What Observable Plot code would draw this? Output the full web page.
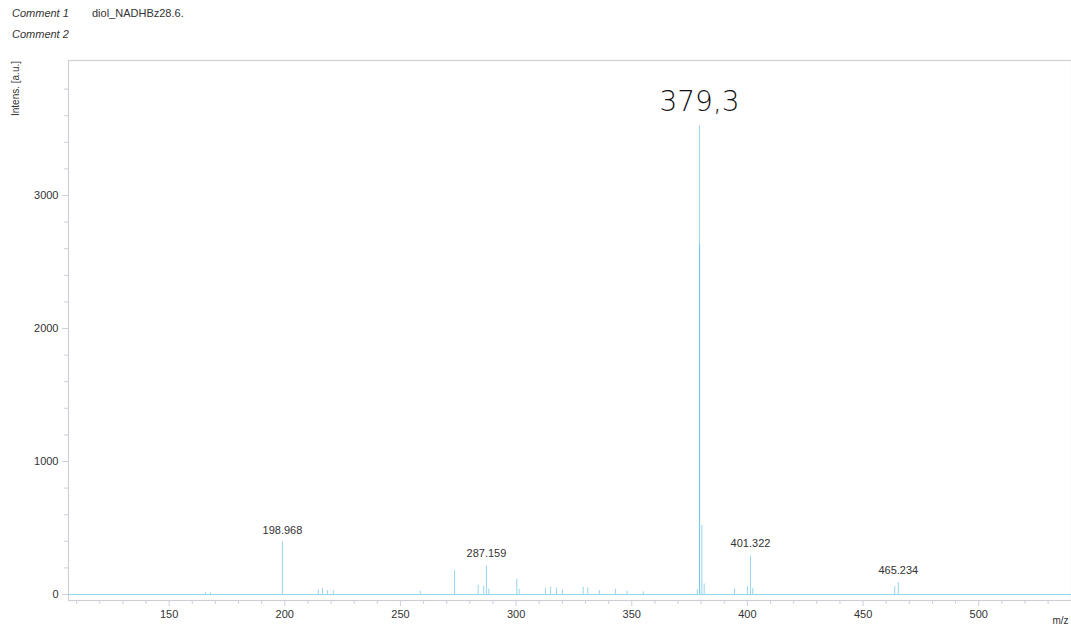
<!DOCTYPE html>
<html>
<head>
<meta charset="utf-8">
<script src="https://cdn.jsdelivr.net/npm/d3@7"></script>
<script src="https://cdn.jsdelivr.net/npm/@observablehq/plot@0.6"></script>
<style>
  html, body { margin: 0; padding: 0; background: #fff; width: 1071px; height: 628px; overflow: hidden; }
  #header { position: relative; height: 52px; font-family: "Liberation Sans", Arial, sans-serif; font-size: 11px; color: #333; }
  #header span { position: absolute; white-space: nowrap; }
  #chart svg { display: block; }
</style>
</head>
<body>
<div id="header">
  <span style="left:12px; top:7px; font-style:italic;">Comment 1</span>
  <span style="left:92px; top:7px;">diol_NADHBz28.6.</span>
  <span style="left:12px; top:28px; font-style:italic;">Comment 2</span>
</div>
<div id="chart"></div>
<script>
// Peak sticks (m/z, intensity in a.u.)
const peakMz = [165.7, 167.9, 198.97, 214.5, 216.3, 218.4, 221.0, 258.6, 273.4, 283.6, 286.0, 287.16, 288.2,
                300.3, 301.3, 312.7, 314.9, 317.5, 320.0, 329.0, 331.0, 336.0, 343.0, 348.0, 355.0, 378.3,
                379.3, 380.3, 381.3, 394.4, 400.0, 401.32, 402.3, 463.7, 465.23];
const peakInt = [15, 12, 395, 35, 45, 30, 28, 25, 180, 70, 60, 215, 40,
                 115, 40, 45, 55, 50, 35, 55, 50, 30, 40, 25, 20, 35,
                 3525, 520, 80, 40, 60, 290, 45, 60, 90];
// Inner darker section of the base peak profile
const coreMz = [379.3];
const coreInt = [2630];

// Annotated peaks
const labelMz = [198.97, 287.16, 379.3, 401.32, 465.23];
const labelInt = [395, 215, 3525, 290, 90];
const labelText = ["198.968", "287.159", "379,3", "401.322", "465.234"];
const labelSize = [11, 11, 28, 11, 11];

// Axis ticks
const xMajor = [150, 200, 250, 300, 350, 400, 450, 500];
const xMinor = [110, 120, 130, 140, 160, 170, 180, 190, 210, 220, 230, 240, 260, 270, 280, 290,
                310, 320, 330, 340, 360, 370, 380, 390, 410, 420, 430, 440, 460, 470, 480, 490, 510, 520, 530];
const yMajor = [0, 1000, 2000, 3000];
const yMinor = [200, 400, 600, 800, 1200, 1400, 1600, 1800, 2200, 2400, 2600, 2800, 3200, 3400, 3600, 3800];

const peaks = peakMz.map((m, i) => ({mz: m, v: peakInt[i]}));
const core = coreMz.map((m, i) => ({mz: m, v: coreInt[i]}));
const labels = labelMz.map((m, i) => ({mz: m, v: labelInt[i], t: labelText[i], s: labelSize[i]}));

const xDomain = [106.5, 540.1];
const yDomain = [-45, 4015];

const lineColor = "#96d6ee";
const axisColor = "#cfcfd6";
const textColor = "#333";

const small = labels.filter(d => d.s < 20);
const big = labels.filter(d => d.s >= 20);

const chart = Plot.plot({
  width: 1071,
  height: 576,
  marginLeft: 68,
  marginRight: 0,
  marginTop: 8,
  marginBottom: 28,
  style: {fontFamily: "'Liberation Sans', Arial, sans-serif", fontSize: "11px", color: textColor, background: "#fff", overflow: "visible"},
  x: {domain: xDomain, axis: null},
  y: {domain: yDomain, axis: null},
  marks: [
    Plot.frame({stroke: axisColor, strokeWidth: 1.2}),
    // baseline of spectrum
    Plot.ruleY([0], {stroke: lineColor, strokeWidth: 1.2}),
    Plot.ruleX(peaks, {x: "mz", y1: 0, y2: "v", stroke: lineColor, strokeWidth: 1}),
    Plot.ruleX(core, {x: "mz", y1: 0, y2: "v", stroke: "#7cc8e6", strokeWidth: 1.2}),
    // axes
    Plot.axisX({ticks: xMajor, tickSize: 6, tickPadding: 4, stroke: axisColor, fill: textColor, fontSize: 11, label: null, tickFormat: d => String(d)}),
    Plot.axisX({ticks: xMinor, tickSize: 4, stroke: axisColor, text: null, label: null}),
    Plot.axisY({ticks: yMajor, tickSize: 6, tickPadding: 4, stroke: axisColor, fill: textColor, fontSize: 11, label: null, tickFormat: d => String(d)}),
    Plot.axisY({ticks: yMinor, tickSize: 4, stroke: axisColor, text: null, label: null}),
    // peak labels
    Plot.text(small, {x: "mz", y: "v", text: "t", dy: -12, fill: textColor, fontSize: 11}),
    Plot.text(big, {x: "mz", y: "v", text: "t", dy: -24, fill: "#111", fontSize: 28, fontFamily: "'DejaVu Sans', sans-serif", fontWeight: 300}),
    // axis titles
    Plot.text(["Intens. [a.u.]"], {frameAnchor: "top-left", dx: -53, dy: 28, rotate: -90, textAnchor: "middle", lineAnchor: "middle", fill: textColor, fontSize: 10}),
    Plot.text(["m/z"], {frameAnchor: "bottom-right", dx: -3, dy: 20, textAnchor: "end", lineAnchor: "middle", fill: textColor, fontSize: 10})
  ]
});
document.getElementById("chart").appendChild(chart);
</script>
</body>
</html>
